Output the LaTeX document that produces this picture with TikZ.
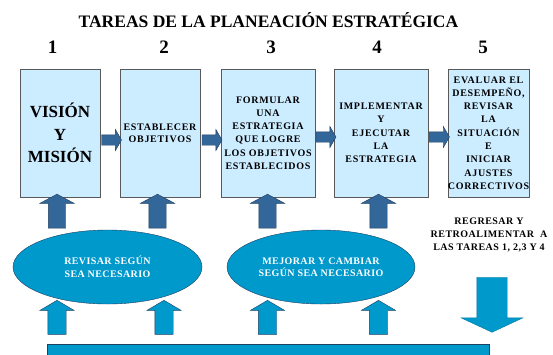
\documentclass[tikz,border=0pt]{standalone}
\usepackage{fontspec}
\setmainfont{Liberation Serif}
\usepackage{tikz}
\usetikzlibrary{shapes.geometric,shapes.arrows}
\definecolor{celeste}{HTML}{CCECFF}
\definecolor{azulosc}{HTML}{336699}
\definecolor{azul}{HTML}{0099CC}
\definecolor{borde}{HTML}{1F4060}
\tikzstyle{Tarea}=[rectangle, minimum height=128, inner sep=0, draw=black!65, fill=celeste, align=center, font=\fontsize{10}{13.3}\selectfont\bfseries\addfontfeature{LetterSpace=7}]
\tikzstyle{Num}=[anchor=base, font=\fontsize{19}{19}\selectfont\bfseries]
\tikzstyle{Elipse}=[ellipse, minimum width=189, minimum height=74, inner sep=0, draw=borde, fill=azul, text=white, align=center, font=\fontsize{10}{12.5}\selectfont\bfseries\addfontfeature{LetterSpace=4}]
\tikzstyle{FlechaDer}=[single arrow, draw=borde, fill=azulosc, minimum height=20, minimum width=21, inner xsep=0, inner ysep=5, single arrow head extend=5.5, single arrow tip angle=120]
\tikzstyle{FlechaArriba}=[single arrow, rotate=90, draw=borde, fill=azulosc, minimum height=34, minimum width=34, inner xsep=0, inner ysep=8.5, single arrow head extend=8.5, single arrow tip angle=124]
\tikzstyle{FlechaBase}=[single arrow, rotate=90, draw=borde, fill=azul, minimum height=34, minimum width=34, inner xsep=0, inner ysep=9, single arrow head extend=8, single arrow tip angle=119]
\tikzstyle{FlechaAbajo}=[single arrow, rotate=-90, draw=azul!80!black, fill=azul, minimum height=55, minimum width=61, inner xsep=0, inner ysep=15, single arrow head extend=15.5, single arrow tip angle=130]

\begin{document}
\begin{tikzpicture}[x=1pt, y=-1pt]
    \useasboundingbox (0,0) rectangle (553,354);
    \clip (0,0) rectangle (553,354);

    \path
    (268.5,27) node[anchor=base, font=\fontsize{17.5}{20}\selectfont\bfseries] (titulo) {TAREAS DE LA PLANEACIÓN ESTRATÉGICA}
    (52.5,53) node[Num] (n1) {1}
    (164,53) node[Num] (n2) {2}
    (271,53) node[Num] (n3) {3}
    (377,53) node[Num] (n4) {4}
    (483,53) node[Num] (n5) {5};

    \path
    (60,133) node[Tarea, minimum width=80, font=\fontsize{17}{22.5}\selectfont\bfseries] (b1) {VISIÓN\\Y\\MISIÓN}
    (160,133) node[Tarea, minimum width=80, font=\fontsize{10}{12}\selectfont\bfseries\addfontfeature{LetterSpace=7}] (b2) {ESTABLECER\\OBJETIVOS}
    (268,133) node[Tarea, minimum width=94] (b3) {FORMULAR\\UNA\\ESTRATEGIA\\QUE LOGRE\\LOS OBJETIVOS\\ESTABLECIDOS}
    (381,133) node[Tarea, minimum width=94] (b4) {IMPLEMENTAR\\Y\\EJECUTAR\\LA\\ESTRATEGIA}
    (488.5,133) node[Tarea, minimum width=81] (b5) {EVALUAR EL\\DESEMPEÑO,\\REVISAR\\LA\\SITUACIÓN\\E\\INICIAR\\AJUSTES\\CORRECTIVOS};

    \path
    (107.5,267) node[Elipse] (e1) {REVISAR SEGÚN\\SEA NECESARIO}
    (321,267) node[Elipse, minimum width=188] (e2) {MEJORAR Y CAMBIAR\\SEGÚN SEA NECESARIO}
    (489,235) node[align=center, font=\fontsize{10}{13}\selectfont\bfseries\addfontfeature{LetterSpace=5}] (regresar) {REGRESAR Y\\RETROALIMENTAR~~A\\LAS TAREAS 1, 2,3 Y 4}
    (268,354) node[rectangle, minimum width=442, minimum height=20, draw=borde, fill=azul] (barra) {};

    % columnas de las flechas
    \coordinate (c1) at (57,0);
    \coordinate (c2) at (157.5,0);
    \coordinate (c3) at (267.5,0);
    \coordinate (c4) at (378.5,0);
    \coordinate (c5) at (164,0);
    \coordinate (c6) at (492,0);

    \path ([yshift=-7]b1.east) -- ([yshift=-7]b2.west) node[midway, FlechaDer] {};
    \path ([yshift=-7]b2.east) -- ([yshift=-7]b3.west) node[midway, FlechaDer] {};
    \path ([yshift=-4]b3.east) -- ([yshift=-4]b4.west) node[midway, FlechaDer] {};
    \path ([yshift=-4]b4.east) -- ([yshift=-4]b5.west) node[midway, FlechaDer] {};

    \path (c1 |- e1.north) -- (c1 |- b1.south) node[midway, FlechaArriba] {};
    \path (c2 |- e1.north) -- (c2 |- b2.south) node[midway, FlechaArriba] {};
    \path (c3 |- e2.north) -- (c3 |- b3.south) node[midway, FlechaArriba] {};
    \path (c4 |- e2.north) -- (c4 |- b4.south) node[midway, FlechaArriba] {};

    \path (c1 |- barra.north) -- (c1 |- e1.south) node[midway, yshift=4, FlechaBase] {};
    \path (c5 |- barra.north) -- (c5 |- e1.south) node[midway, yshift=4, FlechaBase] {};
    \path (c3 |- barra.north) -- (c3 |- e2.south) node[midway, yshift=4, FlechaBase] {};
    \path (c4 |- barra.north) -- (c4 |- e2.south) node[midway, yshift=4, FlechaBase] {};

    \path (c6 |- regresar.south) -- (c6 |- barra.north) node[midway, yshift=-1.5, FlechaAbajo] {};
\end{tikzpicture}
\end{document}
